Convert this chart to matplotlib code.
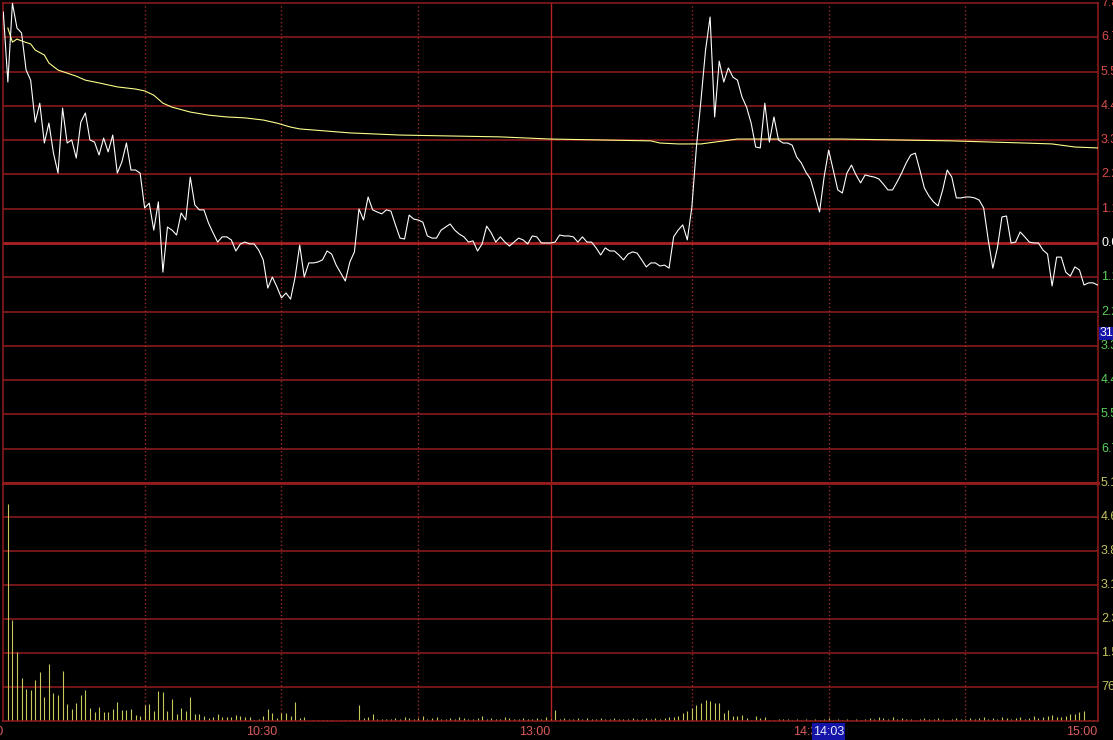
import numpy as np
import matplotlib
matplotlib.use('Agg')
import matplotlib.pyplot as plt
from matplotlib.patches import Rectangle
from matplotlib.transforms import blended_transform_factory

# 分時價格 (漲跌幅 %), 每分鐘一點, 0 = 9:30
price = [
    7.53, 5.25, 7.82, 7.01, 6.85, 5.64, 5.31, 3.94, 4.56, 3.26,
    3.91, 2.93, 2.28, 4.40, 3.26, 3.36, 2.77, 3.94, 4.24, 3.36,
    3.29, 2.87, 3.42, 2.97, 3.52, 2.28, 2.64, 3.26, 2.38, 2.38,
    2.28, 1.14, 1.30, 0.42, 1.34, -0.95, 0.52, 0.42, 0.26, 0.98,
    0.75, 2.15, 1.24, 1.08, 1.08, 0.65, 0.33, 0.03, 0.20, 0.20,
    0.10, -0.26, -0.03, 0.03, -0.03, -0.03, -0.23, -0.55, -1.47, -1.11,
    -1.43, -1.79, -1.63, -1.83, -1.11, -0.07, -1.11, -0.65, -0.65, -0.62,
    -0.55, -0.26, -0.36, -0.72, -0.98, -1.24, -0.62, -0.29, 1.11, 0.75,
    1.50, 1.08, 1.01, 0.95, 1.08, 1.04, 0.59, 0.16, 0.13, 0.91,
    0.78, 0.75, 0.68, 0.23, 0.16, 0.16, 0.42, 0.52, 0.62, 0.42,
    0.29, 0.20, 0.03, 0.07, -0.26, -0.03, 0.55, 0.33, 0.03, 0.20,
    0.03, -0.10, 0.03, 0.16, 0.10, -0.03, 0.23, 0.20, 0.00, 0.00,
    0.00, 0.03, 0.26, 0.23, 0.23, 0.20, 0.03, 0.20, 0.03, 0.03,
    -0.16, -0.39, -0.16, -0.26, -0.26, -0.39, -0.55, -0.36, -0.29, -0.33,
    -0.55, -0.78, -0.65, -0.65, -0.75, -0.72, -0.82, 0.20, 0.42, 0.59,
    0.10, 1.17, 3.13, 4.66, 6.29, 7.37, 4.11, 5.93, 5.25, 5.71,
    5.41, 5.31, 4.76, 4.43, 3.91, 3.13, 3.10, 4.56, 3.29, 4.11,
    3.36, 3.26, 3.26, 3.19, 2.80, 2.61, 2.31, 2.09, 1.56, 1.01,
    2.15, 3.03, 2.38, 1.73, 1.63, 2.28, 2.54, 2.22, 1.96, 2.22,
    2.18, 2.15, 2.09, 1.92, 1.73, 1.73, 1.99, 2.28, 2.61, 2.87,
    2.93, 2.38, 1.79, 1.53, 1.34, 1.21, 1.73, 2.38, 2.15, 1.47,
    1.47, 1.50, 1.50, 1.47, 1.40, 1.14, 0.10, -0.82, -0.16, 0.85,
    0.88, 0.00, 0.03, 0.36, 0.20, 0.03, 0.00, 0.00, -0.23, -0.36,
    -1.40, -0.46, -0.46, -0.95, -1.08, -0.78, -0.88, -1.37, -1.30, -1.30,
    -1.37,
]

# 均價線 (分鐘, %)
avg_min = [1, 2, 3, 4, 6, 7, 9, 10, 12, 14, 16, 18, 21, 25, 29, 31, 33, 35, 37, 41,
           45, 49, 53, 57, 60, 63, 65, 76, 87, 98, 109, 120, 131, 142, 144, 148, 153,
           158, 161, 184, 208, 217, 224, 230, 235, 240]
avg_price = [7.01, 6.55, 6.65, 6.59, 6.49, 6.29, 6.13, 5.87, 5.64, 5.54, 5.44, 5.31,
             5.22, 5.09, 5.02, 4.96, 4.82, 4.56, 4.43, 4.27, 4.17, 4.11, 4.08, 4.01,
             3.91, 3.78, 3.72, 3.59, 3.52, 3.49, 3.46, 3.39, 3.36, 3.33, 3.26, 3.23,
             3.23, 3.33, 3.39, 3.39, 3.33, 3.29, 3.26, 3.23, 3.13, 3.10]

# 成交量 (手), 第1分鐘到第240分鐘
volume = [
    4870, 2266, 1548, 965, 718, 696, 920, 1100, 539, 1279,
    628, 583, 1122, 381, 269, 404, 583, 696, 292, 202,
    314, 202, 202, 269, 426, 247, 247, 269, 135, 112,
    359, 381, 224, 673, 651, 224, 494, 157, 292, 224,
    539, 157, 157, 112, 67, 90, 157, 90, 90, 90,
    135, 112, 90, 90, 22, 45, 112, 269, 180, 67,
    180, 180, 112, 426, 67, 90, 10, 22, 22, 22,
    22, 22, 10, 22, 22, 22, 22, 359, 67, 90,
    157, 45, 45, 45, 45, 67,
    45, 90, 67, 45, 67, 112, 45, 67, 90, 45,
    45, 67, 45, 90, 67, 45, 45, 67, 112, 45,
    67, 45, 45, 90, 67, 45, 45, 67, 45, 45,
    67, 45, 90, 45,
    247,
    45, 67, 45, 45, 67, 45, 67, 45, 45, 67,
    45, 45, 67, 45, 45, 45, 67, 45, 45, 67,
    45, 67, 45, 67, 90,
    90, 112, 180, 224, 292, 359, 404, 471, 449, 404,
    404, 180, 247, 112, 112, 135, 67, 22, 112, 67,
    90, 22, 22, 45, 45, 45, 22, 45, 22,
    45, 22, 45, 22, 45, 67, 22, 45, 22, 45,
    22, 45, 22, 45, 67, 45, 90, 67, 45, 90,
    45, 67, 45, 45, 22, 45, 67, 45, 45, 67,
    45, 22, 45, 67, 45, 45, 67, 45, 67, 90,
    45, 67, 45, 90, 67, 45, 67, 90, 45, 67,
    112, 67, 90, 112,
    135, 90, 90, 112, 157, 157, 202, 224, 22, 22, 337,
]

price_step = 1.118   # 每格 %
vol_step = 763       # 每格 手
vol_labels = ["763", "1.5k", "2.3k", "3.1k", "3.8k", "4.6k", "5.1k"]
time_labels = ["9:30", "10:30", "13:00", "14:30", "15:00"]
time_pos = [0, 60, 120, 180, 240]
dot_lines = [31, 61, 91, 151, 181, 211]

W, H = 1113, 740
GRID = '#961c1c'
PX = 0.72  # 1 px in points


def fx(px):
    return px / W


def fy(py):
    return 1 - py / H


def style_axes(a):
    a.set_facecolor('black')
    a.set_xticks([])
    a.set_yticks([])
    a.set_xlim(0, 240)
    for s in a.spines.values():
        s.set_color(GRID)
        s.set_linewidth(1.5 * PX)


fig = plt.figure(figsize=(W / 100, H / 100), dpi=100, facecolor='black')
ax = fig.add_axes([fx(3.3), fy(483), (1097.7 - 3.3) / W, 480 / H])
axv = fig.add_axes([fx(3.3), fy(721), (1097.7 - 3.3) / W, 238 / H])
style_axes(ax)
style_axes(axv)
ax.spines['bottom'].set_linewidth(2.8 * PX)
axv.spines['top'].set_linewidth(2.8 * PX)

ax.set_ylim(-7 * price_step, 7 * price_step)
axv.set_ylim(0, 7 * vol_step)

# 水平格線
for j in range(-6, 7):
    if j == 0:
        ax.axhline(0, color='#aa2222', lw=2.8 * PX)
    else:
        ax.axhline(j * price_step, color=GRID, lw=1.5 * PX)
for j in range(1, 7):
    axv.axhline(j * vol_step, color=GRID, lw=1.5 * PX)

# 垂直格線
for a in (ax, axv):
    for k in dot_lines:
        a.axvline(k, color='#b02a2a', lw=1.3 * PX, linestyle=(0, (1, 2)))
    a.axvline(120, color='#b42424', lw=1.4 * PX)

# 價格 / 均價 / 成交量
ax.plot(np.arange(len(price)), price, color='white', lw=1.1 * PX, zorder=5)
ax.plot(avg_min, avg_price, color='#ffff8c', lw=1.1 * PX, zorder=4)
axv.vlines(np.arange(1, len(volume) + 1), 0, volume, color='#c8c85a', lw=1.1 * PX)

font = dict(family=['Liberation Sans', 'DejaVu Sans'], fontsize=9)

# 右側刻度 (最下一格與量的刻度共用位置, 只顯示量)
for j in range(-6, 8):
    v = j * price_step
    y = ax.transData.transform((0, v))[1]
    if j > 0:
        c = '#d84c4c'
    elif j == 0:
        c = 'white'
    else:
        c = '#5cd05c'
    fig.text(fx(1101), y / fig.dpi / fig.get_figheight(), '%.2f%%' % abs(v),
             color=c, ha='left', va='center', **font)
for j, lab in enumerate(vol_labels):
    y = axv.transData.transform((0, (j + 1) * vol_step))[1]
    fig.text(fx(1101), y / fig.dpi / fig.get_figheight(), lab,
             color='#c4c460', ha='left', va='center', **font)

# 時間刻度
tr = blended_transform_factory(axv.transData, fig.transFigure)
for k, lab in zip(time_pos, time_labels):
    axv.text(k, fy(732), lab, transform=tr, color='#dc5c5c',
             ha='right', va='center', clip_on=False, **font)

# 游標標籤
fig.patches.append(Rectangle((fx(812), fy(740)), 33 / W, 17 / H,
                             transform=fig.transFigure, facecolor='#1414a8',
                             edgecolor='none', zorder=10))
fig.text(fx(828.5), fy(732), '14:03', color='#e8e8ff', ha='center', va='center',
         zorder=11, **font)
fig.patches.append(Rectangle((fx(1098.5), fy(340)), 15 / W, 13 / H,
                             transform=fig.transFigure, facecolor='#1414a8',
                             edgecolor='none', zorder=10))
fig.text(fx(1099.5), fy(333.5), '31', color='white', ha='left', va='center',
         zorder=11, **font)

fig.savefig('out.png', dpi=100, facecolor='black')
